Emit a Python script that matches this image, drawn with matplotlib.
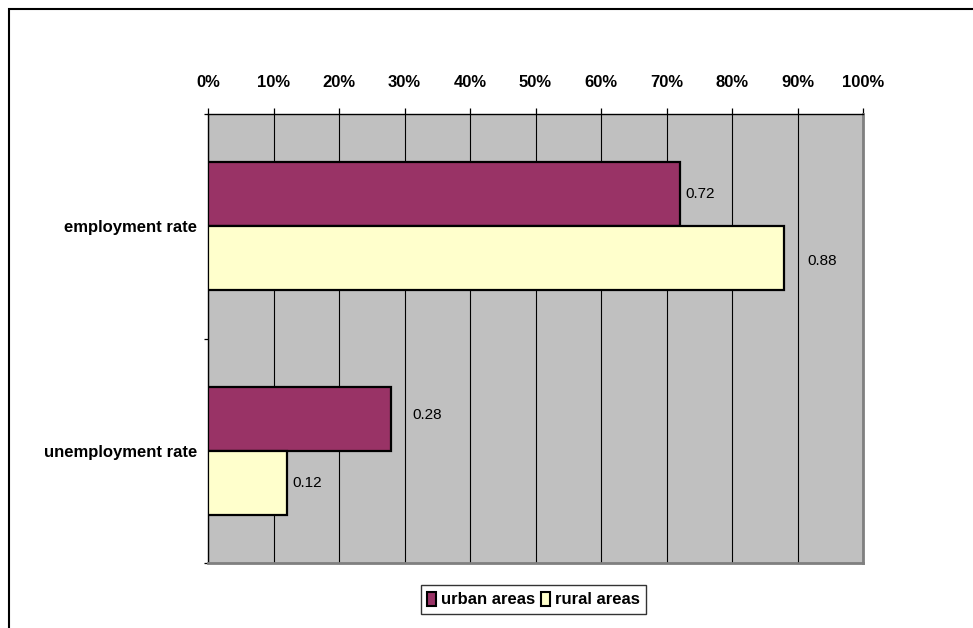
import matplotlib
matplotlib.use("Agg")
import matplotlib.pyplot as plt
from matplotlib import font_manager
from matplotlib.patches import Rectangle, Patch
import numpy as np

# ---- data ----
categories = ["employment rate", "unemployment rate"]
series_names = ["urban areas", "rural areas"]
urban = [0.72, 0.28]
rural = [0.88, 0.12]
x_ticks = [0.0, 0.1, 0.2, 0.3, 0.4, 0.5, 0.6, 0.7, 0.8, 0.9, 1.0]
x_tick_labels = ["0%", "10%", "20%", "30%", "40%", "50%", "60%", "70%", "80%", "90%", "100%"]

# ---- fonts ----
names = {f.name for f in font_manager.fontManager.ttflist}
if "Liberation Sans Narrow" in names:
    FAM = ["Liberation Sans Narrow", "DejaVu Sans"]
    BOLD_SIZE, VAL_SIZE = 14, 12.5
else:
    FAM = ["Liberation Sans", "DejaVu Sans"]
    BOLD_SIZE, VAL_SIZE = 12, 11
plt.rcParams["font.family"] = FAM

W, H = 973, 628
fig = plt.figure(figsize=(W / 100, H / 100), dpi=100)
fig.patch.set_facecolor("white")

# figure border (top-left visible, running off right/bottom)
fig.add_artist(Rectangle((8.5 / W, -0.2), 1.3, 1 - 8.5 / H + 0.2,
                         transform=fig.transFigure, fill=False,
                         edgecolor="black", linewidth=1.5, clip_on=False))

left, right, top, bottom = 208, 863, 114, 563
ax = fig.add_axes([left / W, 1 - bottom / H, (right - left) / W, (bottom - top) / H])
ax.set_facecolor("#C0C0C0")

y = np.arange(len(categories))
bh = 0.286
off = 0.143
ax.barh(y - off, urban, height=bh, color="#993366", edgecolor="black",
        linewidth=1.6, zorder=3, label=series_names[0])
ax.barh(y + off, rural, height=bh, color="#FFFFCC", edgecolor="black",
        linewidth=1.6, zorder=3, label=series_names[1])

# value labels
label_offsets_u = [(6, 0), (21, 4)]
label_offsets_r = [(23, -3), (6, 0)]
for i in range(len(categories)):
    ax.annotate(f"{urban[i]:.2f}", (urban[i], y[i] - off), xytext=label_offsets_u[i],
                textcoords="offset pixels", ha="left", va="center",
                fontsize=VAL_SIZE, color="black", zorder=4)
    ax.annotate(f"{rural[i]:.2f}", (rural[i], y[i] + off), xytext=label_offsets_r[i],
                textcoords="offset pixels", ha="left", va="center",
                fontsize=VAL_SIZE, color="black", zorder=4)

ax.set_xlim(0, 1)
ax.set_ylim(len(categories) - 0.5, -0.5)

# x axis on top
ax.xaxis.set_ticks_position("top")
ax.xaxis.set_label_position("top")
ax.set_xticks(x_ticks)
ax.set_xticklabels(x_tick_labels, fontweight="bold", fontsize=BOLD_SIZE)
ax.tick_params(axis="x", direction="out", length=4.5, width=0.9, pad=13, colors="black")
ax.grid(axis="x", color="black", linewidth=0.8, zorder=1)
ax.set_axisbelow(True)

# y axis
ax.set_yticks(y)
ax.set_yticklabels(categories, fontweight="bold", fontsize=BOLD_SIZE)
ax.tick_params(axis="y", which="major", length=0, pad=8)
ax.set_yticks(np.arange(len(categories) + 1) - 0.5, minor=True)
ax.tick_params(axis="y", which="minor", length=3, width=0.9, direction="out")

for s in ["top", "left"]:
    ax.spines[s].set_color("black")
    ax.spines[s].set_linewidth(1.0)
for s in ["bottom", "right"]:
    ax.spines[s].set_color("#808080")
    ax.spines[s].set_linewidth(2.0)

# legend
handles = [Patch(facecolor="#993366", edgecolor="black", linewidth=1.5),
           Patch(facecolor="#FFFFCC", edgecolor="black", linewidth=1.5)]
leg = fig.legend(handles, series_names, loc="center", bbox_to_anchor=(533.5 / W, 1 - 599.5 / H),
                 ncol=2, frameon=True, fancybox=False, shadow=False,
                 prop={"weight": "bold", "size": BOLD_SIZE, "family": FAM},
                 handlelength=0.5, handleheight=0.9, handletextpad=0.3,
                 columnspacing=0.4, borderpad=0.4, borderaxespad=0)
leg.get_frame().set_edgecolor("black")
leg.get_frame().set_linewidth(1.0)

fig.savefig("out.png", dpi=100, facecolor="white")
